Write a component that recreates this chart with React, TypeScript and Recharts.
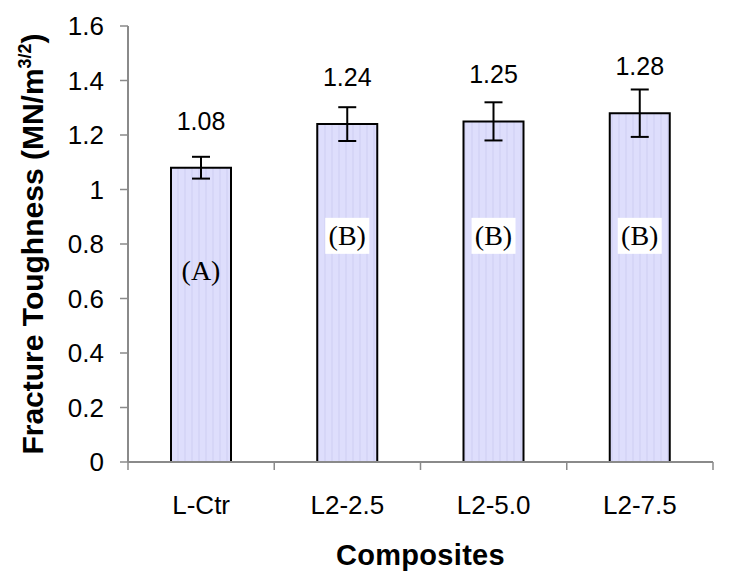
import { BarChart, Bar, XAxis, YAxis, ErrorBar, LabelList } from 'recharts';

const composites = ['L-Ctr', 'L2-2.5', 'L2-5.0', 'L2-7.5'];
const toughness = [1.08, 1.24, 1.25, 1.28];
const toughnessErr = [0.04, 0.062, 0.07, 0.087];
const groups = ['A', 'B', 'B', 'B'];
const yTicks = [0, 0.2, 0.4, 0.6, 0.8, 1, 1.2, 1.4, 1.6];

const data = composites.map((name, i) => ({
  name,
  value: toughness[i],
  err: toughnessErr[i],
  group: groups[i],
}));

const W = 729;
const H = 587;
const PLOT_W = 585;
const BAND = PLOT_W / composites.length;
const AXIS = '#8a8a8a';
const SANS = '"Liberation Sans", Arial, sans-serif';
const SERIF = '"Liberation Serif", "Times New Roman", serif';
// height (in axis units) where the group letter sits
const LETTER_LEVEL: Record<string, number> = { A: 0.7, B: 0.83 };

function XTick(props: any) {
  const { x, y, payload, index } = props;
  const left = x - BAND / 2;
  return (
    <g>
      <line x1={left} y1={y} x2={left} y2={y + 8} stroke={AXIS} strokeWidth={1.5} />
      {index === composites.length - 1 && (
        <line x1={x + BAND / 2} y1={y} x2={x + BAND / 2} y2={y + 8} stroke={AXIS} strokeWidth={1.5} />
      )}
      <text x={x} y={y + 52} textAnchor="middle" fontFamily={SANS} fontSize={26} fill="#000">
        {payload.value}
      </text>
    </g>
  );
}

function ValueLabel(props: any) {
  const { x, y, width, value } = props;
  return (
    <text x={x + width / 2} y={y - 38} textAnchor="middle" fontFamily={SANS} fontSize={25} fill="#000">
      {value.toFixed(2)}
    </text>
  );
}

function GroupLabel(props: any) {
  const { x, y, width, height, index } = props;
  const g = groups[index];
  const bottom = y + height;
  const perUnit = height / toughness[index];
  const cy = bottom - LETTER_LEVEL[g] * perUnit;
  const cx = x + width / 2;
  return (
    <g>
      {g === 'B' && <rect x={cx - 22} y={cy - 18} width={44} height={36} fill="#fff" />}
      <text x={cx} y={cy + 9} textAnchor="middle" fontFamily={SERIF} fontSize={28} fill="#000">
        ({g})
      </text>
    </g>
  );
}

function YTitle(props: any) {
  const { viewBox } = props;
  const cy = viewBox.y + viewBox.height / 2;
  const bx = 43;
  return (
    <text
      x={bx}
      y={cy}
      transform={`rotate(-90, ${bx}, ${cy})`}
      textAnchor="middle"
      fontFamily={SANS}
      fontWeight="bold"
      fontSize={30}
      fill="#000"
    >
      Fracture Toughness (MN/m
      <tspan fontSize={18} dy={-12}>3/2</tspan>
      <tspan dy={12}>)</tspan>
    </text>
  );
}

function XTitle(props: any) {
  const { viewBox } = props;
  return (
    <text
      x={viewBox.x + viewBox.width / 2}
      y={viewBox.y + 103}
      textAnchor="middle"
      fontFamily={SANS}
      fontWeight="bold"
      fontSize={29}
      letterSpacing={0.3}
      fill="#000"
    >
      Composites
    </text>
  );
}

export default function App() {
  return (
    <div style={{ position: 'absolute', left: 0, top: 0, background: '#fff' }}>
      <BarChart width={W} height={H} data={data} margin={{ top: 26, right: 16, bottom: 0, left: 0 }}>
        <defs>
          <pattern id="barFill" width="7" height="10" patternUnits="userSpaceOnUse">
            <rect width="7" height="10" fill="#dedefc" />
            <line x1="3" y1="0" x2="3" y2="10" stroke="#cfcff2" strokeWidth="1" />
          </pattern>
        </defs>
        <XAxis
          dataKey="name"
          height={125}
          tickSize={0}
          tickMargin={0}
          tickLine={false}
          axisLine={{ stroke: AXIS, strokeWidth: 2 }}
          tick={<XTick />}
          interval={0}
          label={<XTitle />}
        />
        <XAxis
          xAxisId="top"
          dataKey="name"
          orientation="top"
          height={0}
          tick={false}
          tickLine={false}
          axisLine={{ stroke: AXIS, strokeWidth: 2 }}
        />
        <YAxis
          width={128}
          domain={[0, 1.6]}
          ticks={yTicks}
          interval={0}
          tickSize={8}
          tickMargin={16}
          tickLine={{ stroke: AXIS, strokeWidth: 1.5 }}
          axisLine={{ stroke: AXIS, strokeWidth: 2 }}
          tick={{ fontFamily: SANS, fontSize: 26, fill: '#000' }}
          label={<YTitle />}
        />
        <YAxis
          yAxisId="right"
          orientation="right"
          width={0}
          domain={[0, 1.6]}
          tick={false}
          tickLine={false}
          axisLine={{ stroke: AXIS, strokeWidth: 2 }}
        />
        <Bar
          dataKey="value"
          barSize={60}
          fill="url(#barFill)"
          stroke="#000"
          strokeWidth={2}
          isAnimationActive={false}
        >
          <LabelList dataKey="value" content={<GroupLabel />} />
          <LabelList dataKey="value" content={<ValueLabel />} />
          <ErrorBar dataKey="err" width={9} stroke="#000" strokeWidth={2} isAnimationActive={false} />
        </Bar>
      </BarChart>
    </div>
  );
}
